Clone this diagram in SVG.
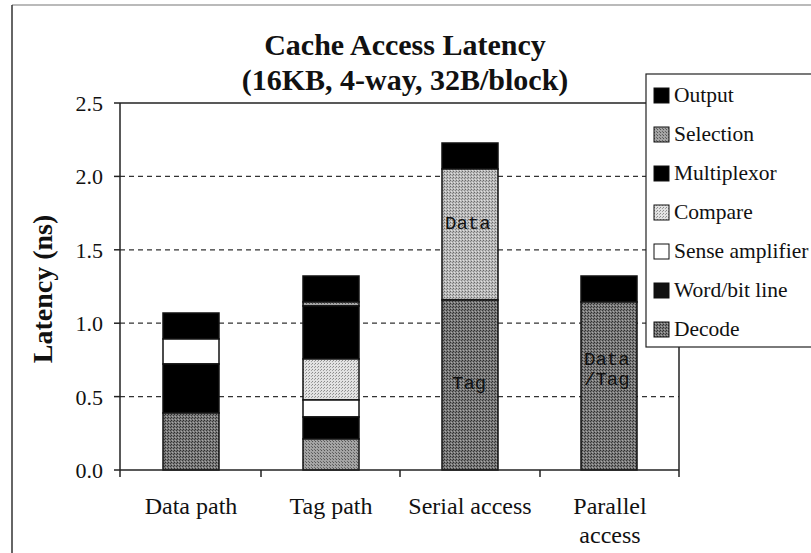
<svg xmlns="http://www.w3.org/2000/svg" width="811" height="553" viewBox="0 0 811 553">
<style>
.t{font-family:"Liberation Serif","Times New Roman",serif;fill:#111}
.tb{font-family:"Liberation Serif","Times New Roman",serif;font-weight:bold;fill:#111}
.m{font-family:"Liberation Mono","Courier New",monospace;fill:#111}
.grid{stroke:#333;stroke-width:1.2;stroke-dasharray:5 4;fill:none}
.ax{stroke:#222;stroke-width:1.5;fill:none}
.seg{stroke:#111;stroke-width:1.5}
.sw{stroke:#111;stroke-width:1}
</style>
<defs>
<pattern id="pDec" width="3" height="3" patternUnits="userSpaceOnUse"><rect width="3" height="3" fill="#787878"/><rect width="1" height="1" fill="#2e2e2e"/><rect x="2" y="1" width="1" height="1" fill="#3a3a3a"/><rect x="1" y="2" width="1" height="1" fill="#a8a8a8"/></pattern>
<pattern id="pSel" width="3" height="3" patternUnits="userSpaceOnUse"><rect width="3" height="3" fill="#a4a4a4"/><rect width="1" height="1" fill="#555"/><rect x="2" y="2" width="1" height="1" fill="#666"/></pattern>
<pattern id="pCmp" width="3" height="3" patternUnits="userSpaceOnUse"><rect width="3" height="3" fill="#e2e2e2"/><rect width="1" height="1" fill="#8a8a8a"/><rect x="2" y="1" width="1" height="1" fill="#a0a0a0"/></pattern>
<pattern id="pData" width="3" height="3" patternUnits="userSpaceOnUse"><rect width="3" height="3" fill="#bababa"/><rect width="1" height="1" fill="#6a6a6a"/><rect x="2" y="1" width="1" height="1" fill="#858585"/><rect x="1" y="2" width="1" height="1" fill="#e0e0e0"/></pattern>
</defs>
<rect width="811" height="553" fill="#fff"/>
<g id="frame">
<line x1="12" y1="5" x2="811" y2="5" stroke="#777" stroke-width="1.2"/>
<line x1="12" y1="5" x2="12" y2="553" stroke="#333" stroke-width="1.5"/>
</g>
<g id="title">
<text class="tb" x="405" y="55" font-size="30" text-anchor="middle">Cache Access Latency</text>
<text class="tb" x="405" y="90" font-size="30" text-anchor="middle">(16KB, 4-way, 32B/block)</text>
</g>
<g id="grid">
<line class="grid" x1="120" y1="176.4" x2="679" y2="176.4"/>
<line class="grid" x1="120" y1="249.8" x2="679" y2="249.8"/>
<line class="grid" x1="120" y1="323.2" x2="679" y2="323.2"/>
<line class="grid" x1="120" y1="396.6" x2="679" y2="396.6"/>
<line class="ax" x1="120" y1="103" x2="679" y2="103"/>
<line class="ax" x1="679" y1="103" x2="679" y2="470"/>
</g>
<g id="bar-data-path">
<rect class="seg" x="163" y="313" width="56" height="26" fill="#000"/>
<rect class="seg" x="163" y="339" width="56" height="25" fill="#fff"/>
<rect class="seg" x="163" y="364" width="56" height="49" fill="#000"/>
<rect class="seg" x="163" y="413" width="56" height="57" fill="url(#pDec)"/>
</g>
<g id="bar-tag-path">
<rect class="seg" x="303" y="276" width="56" height="26" fill="#000"/>
<rect class="seg" x="303" y="302" width="56" height="4" fill="url(#pSel)"/>
<rect class="seg" x="303" y="306" width="56" height="53" fill="#000"/>
<rect class="seg" x="303" y="359" width="56" height="41" fill="url(#pCmp)"/>
<rect class="seg" x="303" y="400" width="56" height="17" fill="#fff"/>
<rect class="seg" x="303" y="417" width="56" height="22" fill="#000"/>
<rect class="seg" x="303" y="439" width="56" height="31" fill="url(#pSel)"/>
</g>
<g id="bar-serial-access">
<rect class="seg" x="442" y="143" width="56" height="26" fill="#000"/>
<rect class="seg" x="442" y="169" width="56" height="131" fill="url(#pData)"/>
<rect class="seg" x="442" y="300" width="56" height="170" fill="url(#pDec)"/>
<text class="m" x="445" y="229" font-size="19">Data</text>
<text class="m" x="452" y="389" font-size="19" fill="#2a2a2a">Tag</text>
</g>
<g id="bar-parallel-access">
<rect class="seg" x="581" y="276" width="56" height="26" fill="#000"/>
<rect class="seg" x="581" y="302" width="56" height="168" fill="url(#pDec)"/>
<text class="m" x="584" y="365" font-size="19" fill="#2a2a2a">Data</text>
<text class="m" x="584" y="385" font-size="19" fill="#2a2a2a">/Tag</text>
</g>
<g id="axes">
<line class="ax" x1="120" y1="103" x2="120" y2="470"/>
<line class="ax" x1="114" y1="470" x2="679" y2="470"/>
<line class="ax" x1="114" y1="103" x2="120" y2="103"/>
<line class="ax" x1="114" y1="176.4" x2="120" y2="176.4"/>
<line class="ax" x1="114" y1="249.8" x2="120" y2="249.8"/>
<line class="ax" x1="114" y1="323.2" x2="120" y2="323.2"/>
<line class="ax" x1="114" y1="396.6" x2="120" y2="396.6"/>
<line class="ax" x1="120" y1="470" x2="120" y2="477"/>
<line class="ax" x1="261" y1="470" x2="261" y2="477"/>
<line class="ax" x1="400" y1="470" x2="400" y2="477"/>
<line class="ax" x1="540" y1="470" x2="540" y2="477"/>
<line class="ax" x1="679" y1="470" x2="679" y2="477"/>
</g>
<g id="y-labels">
<text class="t" x="103" y="111" font-size="22" text-anchor="end">2.5</text>
<text class="t" x="103" y="184" font-size="22" text-anchor="end">2.0</text>
<text class="t" x="103" y="257.5" font-size="22" text-anchor="end">1.5</text>
<text class="t" x="103" y="331" font-size="22" text-anchor="end">1.0</text>
<text class="t" x="103" y="404.5" font-size="22" text-anchor="end">0.5</text>
<text class="t" x="103" y="478" font-size="22" text-anchor="end">0.0</text>
<text class="tb" transform="translate(52 289) rotate(-90)" font-size="28" text-anchor="middle">Latency (ns)</text>
</g>
<g id="x-labels">
<text class="t" x="191" y="514" font-size="24" text-anchor="middle">Data path</text>
<text class="t" x="331" y="514" font-size="24" text-anchor="middle">Tag path</text>
<text class="t" x="470" y="514" font-size="24" text-anchor="middle">Serial access</text>
<text class="t" x="610" y="514" font-size="24" text-anchor="middle">Parallel</text>
<text class="t" x="610" y="543" font-size="24" text-anchor="middle">access</text>
</g>
<g id="legend">
<rect x="646" y="74" width="170" height="273" fill="#fff" stroke="#222" stroke-width="1.2"/>
<rect class="sw" x="654" y="88" width="15" height="15" fill="#000"/>
<text class="t" x="674" y="102" font-size="21.5">Output</text>
<rect class="sw" x="654" y="127" width="15" height="15" fill="url(#pSel)"/>
<text class="t" x="674" y="141" font-size="21.5">Selection</text>
<rect class="sw" x="654" y="166" width="15" height="15" fill="#000"/>
<text class="t" x="674" y="180" font-size="21.5">Multiplexor</text>
<rect class="sw" x="654" y="205" width="15" height="15" fill="url(#pCmp)"/>
<text class="t" x="674" y="219" font-size="21.5">Compare</text>
<rect class="sw" x="654" y="244" width="15" height="15" fill="#fff"/>
<text class="t" x="674" y="258" font-size="21.5">Sense amplifier</text>
<rect class="sw" x="654" y="283" width="15" height="15" fill="#111"/>
<text class="t" x="674" y="297" font-size="21.5">Word/bit line</text>
<rect class="sw" x="654" y="322" width="15" height="15" fill="url(#pDec)"/>
<text class="t" x="674" y="336" font-size="21.5">Decode</text>
</g>
</svg>
